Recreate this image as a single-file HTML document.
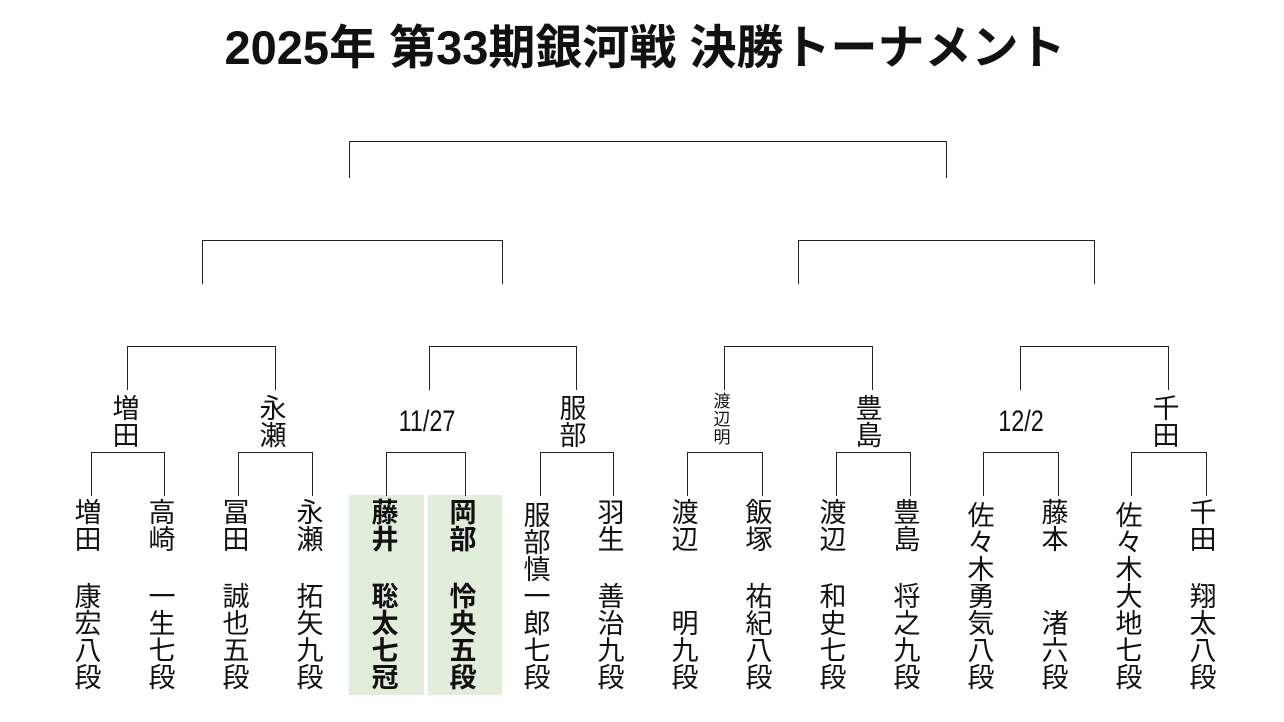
<!DOCTYPE html>
<html><head><meta charset="utf-8"><style>
body{margin:0;width:1284px;height:722px;background:#fff;position:relative;overflow:hidden;font-family:"Liberation Sans","Noto Sans CJK JP",sans-serif;color:#111}
.l{position:absolute;background:#222}
.h{height:1px}.v{width:1px}
.t{position:absolute;width:50px;margin-left:-25px;text-align:center;font-size:27px;line-height:27px}
.b{font-weight:bold}
.g{position:absolute;background:#e1eddb;top:495px;height:200px}
.bot{position:absolute;width:50px;margin-left:-25px;text-align:center;font-size:27px;line-height:27px;bottom:30px}
</style></head><body>
<div style="position:absolute;left:0;width:1290px;top:18px;text-align:center;font-size:47px;font-weight:bold;line-height:60px">2025年 第33期銀河戦 決勝トーナメント</div>

<div class="g" style="left:349px;width:75px"></div>
<div class="g" style="left:428px;width:74px"></div>

<div class="l h" style="left:349px;top:141px;width:598px"></div>
<div class="l v" style="left:349px;top:141px;height:37px"></div>
<div class="l v" style="left:946px;top:141px;height:37px"></div>
<div class="l h" style="left:202px;top:240px;width:301px"></div>
<div class="l v" style="left:202px;top:240px;height:44px"></div>
<div class="l v" style="left:502px;top:240px;height:44px"></div>
<div class="l h" style="left:798px;top:240px;width:297px"></div>
<div class="l v" style="left:798px;top:240px;height:44px"></div>
<div class="l v" style="left:1094px;top:240px;height:44px"></div>
<div class="l h" style="left:127px;top:346px;width:149px"></div>
<div class="l v" style="left:127px;top:346px;height:44px"></div>
<div class="l v" style="left:275px;top:346px;height:44px"></div>
<div class="l h" style="left:429px;top:346px;width:148px"></div>
<div class="l v" style="left:429px;top:346px;height:44px"></div>
<div class="l v" style="left:576px;top:346px;height:44px"></div>
<div class="l h" style="left:724px;top:346px;width:149px"></div>
<div class="l v" style="left:724px;top:346px;height:44px"></div>
<div class="l v" style="left:872px;top:346px;height:44px"></div>
<div class="l h" style="left:1020px;top:346px;width:149px"></div>
<div class="l v" style="left:1020px;top:346px;height:44px"></div>
<div class="l v" style="left:1168px;top:346px;height:44px"></div>
<div class="l h" style="left:91px;top:452px;width:74px"></div>
<div class="l v" style="left:91px;top:452px;height:44px"></div><div class="l v" style="left:164px;top:452px;height:44px"></div>
<div class="l h" style="left:238px;top:452px;width:75px"></div>
<div class="l v" style="left:238px;top:452px;height:44px"></div><div class="l v" style="left:312px;top:452px;height:44px"></div>
<div class="l h" style="left:386px;top:452px;width:80px"></div>
<div class="l v" style="left:386px;top:452px;height:44px"></div><div class="l v" style="left:465px;top:452px;height:44px"></div>
<div class="l h" style="left:540px;top:452px;width:74px"></div>
<div class="l v" style="left:540px;top:452px;height:44px"></div><div class="l v" style="left:613px;top:452px;height:44px"></div>
<div class="l h" style="left:687px;top:452px;width:76px"></div>
<div class="l v" style="left:687px;top:452px;height:44px"></div><div class="l v" style="left:762px;top:452px;height:44px"></div>
<div class="l h" style="left:836px;top:452px;width:75px"></div>
<div class="l v" style="left:836px;top:452px;height:44px"></div><div class="l v" style="left:910px;top:452px;height:44px"></div>
<div class="l h" style="left:983px;top:452px;width:76px"></div>
<div class="l v" style="left:983px;top:452px;height:44px"></div><div class="l v" style="left:1058px;top:452px;height:44px"></div>
<div class="l h" style="left:1131px;top:452px;width:76px"></div>
<div class="l v" style="left:1131px;top:452px;height:44px"></div><div class="l v" style="left:1206px;top:452px;height:44px"></div>

<div class="t" style="left:126px;top:396px">増<br>田</div>
<div class="t" style="left:273px;top:396px">永<br>瀬</div>
<div class="t" style="left:427px;top:406px;width:120px;margin-left:-60px;font-size:30px;line-height:32px;transform:scaleX(0.78)">11/27</div>
<div class="t" style="left:573px;top:396px">服<br>部</div>
<div class="t" style="left:722px;top:393px;font-size:17px;line-height:18px">渡<br>辺<br>明</div>
<div class="t" style="left:869px;top:396px">豊<br>島</div>
<div class="t" style="left:1021px;top:406px;width:120px;margin-left:-60px;font-size:30px;line-height:32px;transform:scaleX(0.78)">12/2</div>
<div class="t" style="left:1166px;top:396px">千<br>田</div>

<div class="t" style="left:88px;top:500px">増<br>田</div><div class="bot" style="left:88px">康<br>宏<br>八<br>段</div>
<div class="t" style="left:162px;top:500px">高<br>崎</div><div class="bot" style="left:162px">一<br>生<br>七<br>段</div>
<div class="t" style="left:236px;top:500px">冨<br>田</div><div class="bot" style="left:236px">誠<br>也<br>五<br>段</div>
<div class="t" style="left:310px;top:500px">永<br>瀬</div><div class="bot" style="left:310px">拓<br>矢<br>九<br>段</div>
<div class="t b" style="left:385px;top:500px">藤<br>井</div><div class="bot b" style="left:385px">聡<br>太<br>七<br>冠</div>
<div class="t b" style="left:463px;top:500px">岡<br>部</div><div class="bot b" style="left:463px">怜<br>央<br>五<br>段</div>
<div class="bot" style="left:537px">服<br>部<br>慎<br>一<br>郎<br>七<br>段</div>
<div class="t" style="left:611px;top:500px">羽<br>生</div><div class="bot" style="left:611px">善<br>治<br>九<br>段</div>
<div class="t" style="left:685px;top:500px">渡<br>辺</div><div class="bot" style="left:685px">明<br>九<br>段</div>
<div class="t" style="left:759px;top:500px">飯<br>塚</div><div class="bot" style="left:759px">祐<br>紀<br>八<br>段</div>
<div class="t" style="left:833px;top:500px">渡<br>辺</div><div class="bot" style="left:833px">和<br>史<br>七<br>段</div>
<div class="t" style="left:907px;top:500px">豊<br>島</div><div class="bot" style="left:907px">将<br>之<br>九<br>段</div>
<div class="bot" style="left:981px">佐<br>々<br>木<br>勇<br>気<br>八<br>段</div>
<div class="t" style="left:1055px;top:500px">藤<br>本</div><div class="bot" style="left:1055px">渚<br>六<br>段</div>
<div class="bot" style="left:1129px">佐<br>々<br>木<br>大<br>地<br>七<br>段</div>
<div class="t" style="left:1203px;top:500px">千<br>田</div><div class="bot" style="left:1203px">翔<br>太<br>八<br>段</div>
</body></html>
